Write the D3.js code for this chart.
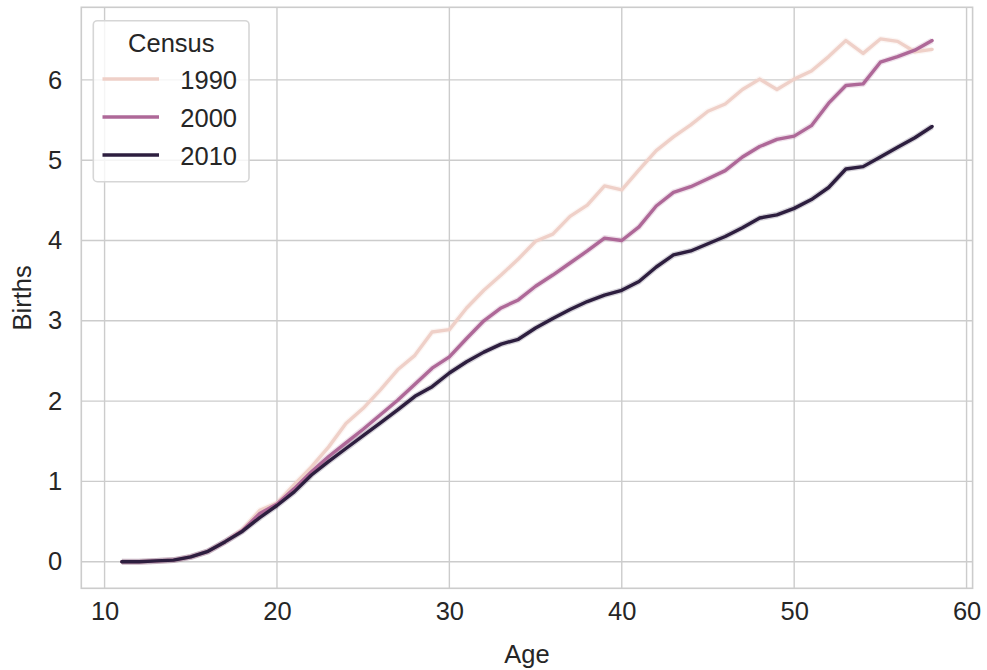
<!DOCTYPE html>
<html lang="en">
<head>
  <meta charset="UTF-8">
  <title>Births by age</title>
  <style>
    body { margin: 0; background: #fff; }
    svg { display: block; font-family: "Liberation Sans", Arial, sans-serif; }
    .grid line { stroke: #cccccc; stroke-width: 1.4; }
    .tick text { fill: #262626; font-size: 25.5px; }
    .label { fill: #262626; font-size: 25.5px; }
  </style>
</head>
<body>
<script src="https://d3js.org/d3.v7.min.js"></script>
<script>
  const ages = [11, 12, 13, 14, 15, 16, 17, 18, 19, 20, 21, 22, 23, 24, 25, 26, 27, 28, 29, 30,
    31, 32, 33, 34, 35, 36, 37, 38, 39, 40, 41, 42, 43, 44, 45, 46, 47, 48, 49, 50,
    51, 52, 53, 54, 55, 56, 57, 58]

  const births1990 = [0.00, 0.00, 0.01, 0.02, 0.06, 0.13, 0.25, 0.40, 0.64, 0.73,
    0.96, 1.18, 1.43, 1.72, 1.91, 2.14, 2.39, 2.57, 2.86, 2.89,
    3.16, 3.38, 3.57, 3.77, 3.99, 4.08, 4.30, 4.44, 4.68, 4.63,
    4.88, 5.12, 5.29, 5.44, 5.61, 5.70, 5.88, 6.01, 5.88, 6.01,
    6.11, 6.29, 6.49, 6.33, 6.51, 6.48, 6.35, 6.38]

  const births2000 = [0.00, 0.00, 0.01, 0.02, 0.06, 0.13, 0.25, 0.39, 0.60, 0.72,
    0.91, 1.12, 1.31, 1.48, 1.65, 1.83, 2.01, 2.21, 2.41, 2.55,
    2.78, 3.00, 3.16, 3.26, 3.43, 3.57, 3.72, 3.87, 4.03, 4.00,
    4.17, 4.43, 4.60, 4.67, 4.77, 4.87, 5.04, 5.17, 5.26, 5.30,
    5.43, 5.71, 5.93, 5.95, 6.22, 6.29, 6.37, 6.49]

  const births2010 = [0.00, 0.00, 0.01, 0.02, 0.06, 0.13, 0.25, 0.38, 0.55, 0.70,
    0.87, 1.08, 1.25, 1.41, 1.57, 1.73, 1.89, 2.06, 2.18, 2.35,
    2.49, 2.61, 2.71, 2.77, 2.91, 3.03, 3.14, 3.24, 3.32, 3.38,
    3.49, 3.67, 3.82, 3.87, 3.96, 4.05, 4.16, 4.28, 4.32, 4.40,
    4.51, 4.66, 4.89, 4.92, 5.04, 5.16, 5.28, 5.42]

  const censusYears = ['1990', '2000', '2010']
  const colors = ['#efd0c8', '#ae6898', '#2d1e3f']
  const xTicks = [10, 20, 30, 40, 50, 60]
  const yTicks = [0, 1, 2, 3, 4, 5, 6]

  const series = [births1990, births2000, births2010].map((vals, i) => ({
    name: censusYears[i],
    color: colors[i],
    values: ages.map((a, j) => ({ age: a, v: vals[j] }))
  }))

  const W = 987, H = 670
  const pl = 81.3, pr = 972.6, pt = 7.3, pb = 588.3

  const x = d3.scaleLinear().domain([8.65, 60.35]).range([pl, pr])
  const y = d3.scaleLinear().domain([-0.331, 6.904]).range([pb, pt])

  const svg = d3.select('body').append('svg')
    .attr('width', W)
    .attr('height', H)

  // grid
  const grid = svg.append('g').attr('class', 'grid')
  grid.selectAll('.gx').data(xTicks).enter().append('line')
    .attr('x1', d => x(d)).attr('x2', d => x(d))
    .attr('y1', pt).attr('y2', pb)
  grid.selectAll('.gy').data(yTicks).enter().append('line')
    .attr('x1', pl).attr('x2', pr)
    .attr('y1', d => y(d)).attr('y2', d => y(d))

  // axes (labels only, whitegrid has no tick marks)
  const xAxis = d3.axisBottom(x).tickValues(xTicks).tickSize(0).tickPadding(14)
  svg.append('g')
    .attr('transform', `translate(0, ${pb})`)
    .call(xAxis)
    .call(g => g.select('.domain').remove())

  const yAxis = d3.axisLeft(y).tickValues(yTicks).tickSize(0).tickPadding(19)
  svg.append('g')
    .attr('transform', `translate(${pl}, 0)`)
    .call(yAxis)
    .call(g => g.select('.domain').remove())

  svg.selectAll('.tick text').style('font-family', '"Liberation Sans", Arial, sans-serif')

  // frame
  svg.append('rect')
    .attr('x', pl).attr('y', pt)
    .attr('width', pr - pl).attr('height', pb - pt)
    .attr('fill', 'none')
    .attr('stroke', '#cccccc')
    .attr('stroke-width', 1.6)

  const line = d3.line().x(d => x(d.age)).y(d => y(d.v))

  // faint halo standing in for the confidence band
  svg.selectAll('.halo').data(series).enter().append('path')
    .attr('d', d => line(d.values))
    .attr('fill', 'none')
    .attr('stroke', d => d.color)
    .attr('stroke-opacity', 0.2)
    .attr('stroke-width', 6)
    .attr('stroke-linejoin', 'round')

  svg.selectAll('.series').data(series).enter().append('path')
    .attr('d', d => line(d.values))
    .attr('fill', 'none')
    .attr('stroke', d => d.color)
    .attr('stroke-width', 3.4)
    .attr('stroke-linejoin', 'round')
    .attr('stroke-linecap', 'round')

  // axis labels
  svg.append('text').attr('class', 'label')
    .attr('x', (pl + pr) / 2).attr('y', 663)
    .attr('text-anchor', 'middle')
    .text('Age')

  svg.append('text').attr('class', 'label')
    .attr('transform', `translate(31, ${(pt + pb) / 2}) rotate(-90)`)
    .attr('text-anchor', 'middle')
    .text('Births')

  // legend
  const lg = svg.append('g')
  lg.append('rect')
    .attr('x', 93.3).attr('y', 20.7)
    .attr('width', 155.7).attr('height', 161)
    .attr('rx', 4)
    .attr('fill', 'white').attr('fill-opacity', 0.8)
    .attr('stroke', '#d6d6d6').attr('stroke-width', 1.6)

  lg.append('text').attr('class', 'label')
    .attr('x', 171.3).attr('y', 51.5)
    .attr('text-anchor', 'middle')
    .text('Census')

  const items = lg.selectAll('.item').data(series).enter().append('g')
    .attr('transform', (d, i) => `translate(0, ${79 + i * 38})`)
  items.append('line')
    .attr('x1', 102.5).attr('x2', 159)
    .attr('stroke', d => d.color)
    .attr('stroke-width', 3.4)
  items.append('text').attr('class', 'label')
    .attr('x', 237).attr('y', 10.3)
    .attr('text-anchor', 'end')
    .text(d => d.name)
</script>
</body>
</html>
